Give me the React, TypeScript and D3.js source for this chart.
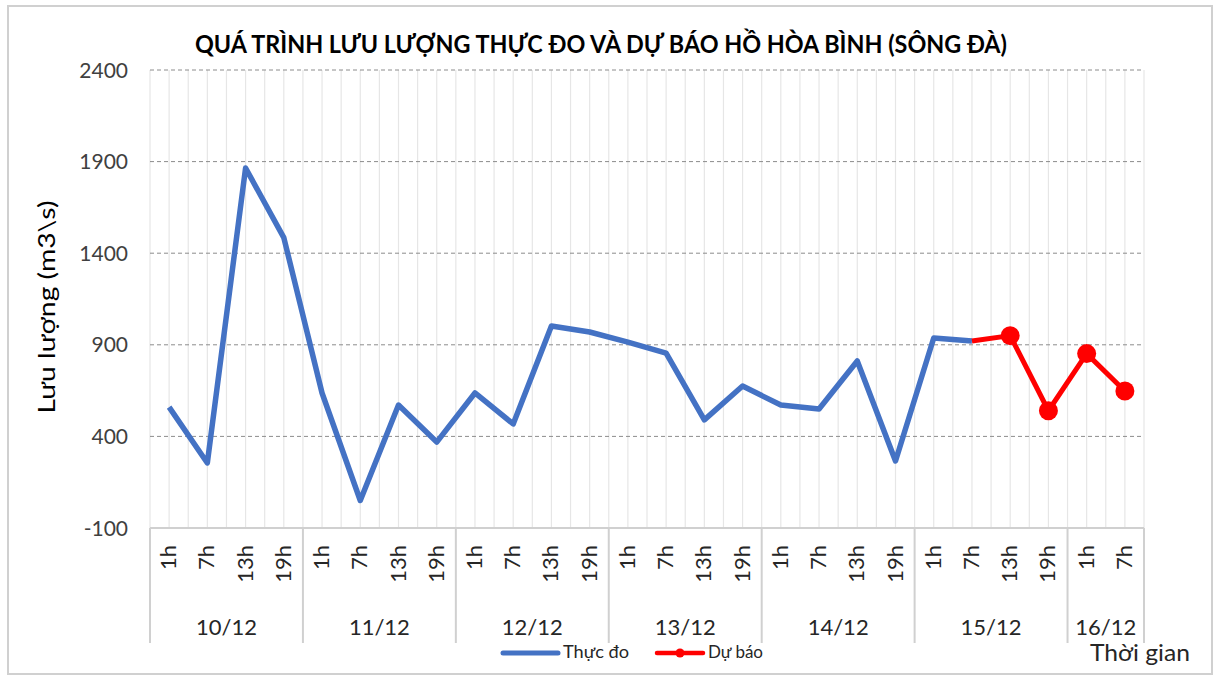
import * as d3 from 'd3';
import { useEffect, useRef } from 'react';

const hours = ['1h', '7h', '13h', '19h'];
const days = ['10/12', '11/12', '12/12', '13/12', '14/12', '15/12', '16/12'];
const dayCounts = [4, 4, 4, 4, 4, 4, 2];

// lưu lượng thực đo (m3/s)
const observed = [560, 255, 1865, 1485, 637, 50, 571, 369, 637, 468, 1003, 970, 915, 855, 490, 675, 571, 550, 812, 266, 937, 921];
// dự báo, bắt đầu từ 7h 15/12
const forecastStart = 21;
const forecast = [921, 950, 540, 852, 648];

const yTicks = [-100, 400, 900, 1400, 1900, 2400];

const FONT = "Lato, 'Open Sans', sans-serif";

const App = () => {
    const ref = useRef<SVGSVGElement | null>(null);

    useEffect(() => {
        drawChart();
    }, []);

    const drawChart = () => {
        const width = 1215;
        const height = 677;
        const left = 150, right = 1144, top = 70, bottom = 528;

        const svg = d3.select(ref.current);
        svg.selectAll('*').remove();

        // build category list
        const cats: { hour: string; day: number }[] = [];
        dayCounts.forEach((n, d) => {
            for (let i = 0; i < n; i++) cats.push({ hour: hours[i], day: d });
        });

        const x = d3.scaleBand<number>().domain(d3.range(cats.length)).range([left, right]).padding(0);
        const bw = x.bandwidth();
        const cx = (i: number) => (x(i) as number) + bw / 2;
        const y = d3.scaleLinear().domain([-100, 2400]).range([bottom, top]);

        svg.append('rect')
            .attr('x', 0).attr('y', 0).attr('width', width).attr('height', height)
            .attr('fill', '#fff');
        svg.append('rect')
            .attr('x', 8).attr('y', 6).attr('width', 1204).attr('height', 668)
            .attr('fill', 'none').attr('stroke', '#d0d0d0').attr('stroke-width', 2);

        // vertical grid (every half category)
        const vLines = d3.range(cats.length * 2 + 1).map(k => left + k * bw / 2);
        svg.append('g')
            .selectAll('line')
            .data(vLines)
            .enter()
            .append('line')
            .attr('x1', d => d).attr('x2', d => d)
            .attr('y1', top).attr('y2', bottom)
            .attr('stroke', '#e6e6e6').attr('stroke-width', 1.2);

        // horizontal grid
        svg.append('g')
            .selectAll('line')
            .data(yTicks.slice(1))
            .enter()
            .append('line')
            .attr('x1', left).attr('x2', right)
            .attr('y1', d => y(d)).attr('y2', d => y(d))
            .attr('stroke', '#8c8c8c').attr('stroke-width', 1)
            .attr('stroke-dasharray', '4,3');

        // y tick labels
        svg.append('g')
            .selectAll('text')
            .data(yTicks)
            .enter()
            .append('text')
            .attr('x', left - 22)
            .attr('y', d => y(d))
            .attr('dy', '0.36em')
            .attr('text-anchor', 'end')
            .style('font-family', FONT)
            .style('font-size', '21px')
            .style('fill', '#404040')
            .text(d => d);

        // x axis line
        svg.append('line')
            .attr('x1', left).attr('x2', right)
            .attr('y1', bottom).attr('y2', bottom)
            .attr('stroke', '#d0d0d0').attr('stroke-width', 2);

        // day separators
        const bounds: number[] = [0];
        dayCounts.forEach(n => bounds.push(bounds[bounds.length - 1] + n));
        svg.append('g')
            .selectAll('line')
            .data(bounds)
            .enter()
            .append('line')
            .attr('x1', d => left + d * bw).attr('x2', d => left + d * bw)
            .attr('y1', bottom).attr('y2', 643)
            .attr('stroke', '#d0d0d0').attr('stroke-width', 2);

        // hour labels
        svg.append('g')
            .selectAll('text')
            .data(cats)
            .enter()
            .append('text')
            .attr('transform', (d, i) => `translate(${cx(i) + 7},545) rotate(-90)`)
            .attr('text-anchor', 'end')
            .style('font-family', FONT)
            .style('font-size', '22px')
            .style('fill', '#262626')
            .text(d => d.hour);

        // day labels
        svg.append('g')
            .selectAll('text')
            .data(days)
            .enter()
            .append('text')
            .attr('x', (d, i) => left + (bounds[i] + bounds[i + 1]) / 2 * bw)
            .attr('y', 635)
            .attr('text-anchor', 'middle')
            .style('font-family', FONT)
            .style('font-size', '22px')
            .style('fill', '#262626')
            .text(d => d);

        // observed series
        const obsPts: [number, number][] = observed.map((v, i) => [cx(i), y(v)]);
        svg.append('path')
            .attr('d', d3.line()(obsPts))
            .attr('fill', 'none')
            .attr('stroke', '#4472C4')
            .attr('stroke-width', 5.5)
            .attr('stroke-linejoin', 'round');

        // forecast series
        const fcPts: [number, number][] = forecast.map((v, i) => [cx(forecastStart + i), y(v)]);
        svg.append('path')
            .attr('d', d3.line()(fcPts))
            .attr('fill', 'none')
            .attr('stroke', '#FF0000')
            .attr('stroke-width', 5)
            .attr('stroke-linejoin', 'round');
        svg.append('g')
            .selectAll('circle')
            .data(fcPts.slice(1))
            .enter()
            .append('circle')
            .attr('cx', d => d[0]).attr('cy', d => d[1])
            .attr('r', 9.5)
            .attr('fill', '#FF0000');

        // title
        svg.append('text')
            .attr('x', 601).attr('y', 53)
            .attr('text-anchor', 'middle')
            .attr('textLength', 812)
            .attr('lengthAdjust', 'spacingAndGlyphs')
            .style('font-family', FONT)
            .style('font-weight', 700)
            .style('font-size', '24px')
            .style('fill', '#000')
            .text('QUÁ TRÌNH LƯU LƯỢNG THỰC ĐO VÀ DỰ BÁO HỒ HÒA BÌNH (SÔNG ĐÀ)');

        // y axis title
        svg.append('text')
            .attr('transform', 'translate(55,307) rotate(-90)')
            .attr('text-anchor', 'middle')
            .attr('textLength', 213)
            .attr('lengthAdjust', 'spacingAndGlyphs')
            .style('font-family', FONT)
            .style('font-size', '23px')
            .style('fill', '#000')
            .text('Lưu lượng (m3\\s)');

        // x axis title
        svg.append('text')
            .attr('x', 1190).attr('y', 661)
            .attr('text-anchor', 'end')
            .attr('textLength', 100)
            .attr('lengthAdjust', 'spacingAndGlyphs')
            .style('font-family', FONT)
            .style('font-size', '23px')
            .style('fill', '#262626')
            .text('Thời gian');

        // legend
        const lg = svg.append('g');
        lg.append('line')
            .attr('x1', 503).attr('x2', 558).attr('y1', 653).attr('y2', 653)
            .attr('stroke', '#4472C4').attr('stroke-width', 5).attr('stroke-linecap', 'round');
        lg.append('text')
            .attr('x', 563).attr('y', 658)
            .attr('textLength', 66)
            .attr('lengthAdjust', 'spacingAndGlyphs')
            .style('font-family', FONT).style('font-size', '17px').style('fill', '#262626')
            .text('Thực đo');
        lg.append('line')
            .attr('x1', 657).attr('x2', 703).attr('y1', 653).attr('y2', 653)
            .attr('stroke', '#FF0000').attr('stroke-width', 4.5).attr('stroke-linecap', 'round');
        lg.append('circle')
            .attr('cx', 680).attr('cy', 653).attr('r', 4.5).attr('fill', '#FF0000');
        lg.append('text')
            .attr('x', 708).attr('y', 658)
            .attr('textLength', 55)
            .attr('lengthAdjust', 'spacingAndGlyphs')
            .style('font-family', FONT).style('font-size', '17px').style('fill', '#262626')
            .text('Dự báo');
    };

    return (
        <svg ref={ref} width={1215} height={677}
            style={{ position: 'absolute', left: 0, top: 0, display: 'block' }} />
    );
};

export default App;
